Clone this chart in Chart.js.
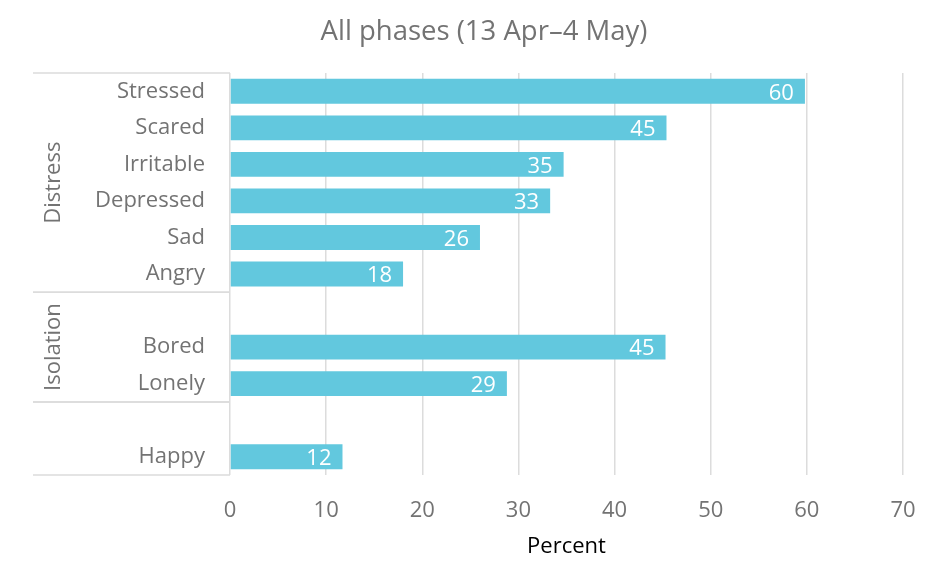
<!DOCTYPE html>
<html>
<head>
<meta charset="utf-8">
<script src="https://cdn.jsdelivr.net/npm/chart.js@4/dist/chart.umd.min.js"></script>
<style>
  html, body { margin: 0; padding: 0; background: #fff; }
  #wrap { width: 938px; height: 563px; }
</style>
</head>
<body>
<div id="wrap"><canvas id="feelingsChart"></canvas></div>
<script>
const categories = ['Stressed', 'Scared', 'Irritable', 'Depressed', 'Sad', 'Angry', '', 'Bored', 'Lonely', '', 'Happy'];
const percents = [59.8, 45.4, 34.7, 33.3, 26.0, 18.0, null, 45.3, 28.8, null, 11.7];
const groupNames = ['Distress', 'Isolation', ''];
const groupSpans = [[0, 5], [6, 8], [9, 10]];
const xTicks = [0, 10, 20, 30, 40, 50, 60, 70];

const font = 'Open Sans';
const grey = '#737373';
const lineGrey = '#dcdcdc';

// value labels inside the bar end
const barLabels = {
    id: 'barLabels',
    afterDatasetsDraw(chart) {
        const ctx = chart.ctx;
        const meta = chart.getDatasetMeta(0);
        ctx.save();
        ctx.font = '22px "' + font + '"';
        ctx.fillStyle = '#ffffff';
        ctx.textAlign = 'right';
        ctx.textBaseline = 'middle';
        meta.data.forEach((bar, i) => {
            const v = percents[i];
            if (v === null) return;
            ctx.fillText(String(Math.round(v)), bar.x - 11, bar.y + 2);
        });
        ctx.restore();
    }
};

// group names and separators in the category area
const groupAxis = {
    id: 'groupAxis',
    afterDraw(chart) {
        const ctx = chart.ctx;
        const y = chart.scales.y;
        const step = y.getPixelForValue(1) - y.getPixelForValue(0);
        const left = 33;
        const right = chart.chartArea.left;
        ctx.save();
        ctx.strokeStyle = lineGrey;
        ctx.lineWidth = 1.5;
        groupSpans.forEach((span, g) => {
            const top = y.getPixelForValue(span[0]) - step / 2;
            const bottom = y.getPixelForValue(span[1]) + step / 2;
            ctx.beginPath();
            ctx.moveTo(left, top);
            ctx.lineTo(right, top);
            ctx.moveTo(left, bottom);
            ctx.lineTo(right, bottom);
            ctx.stroke();
            if (groupNames[g]) {
                ctx.save();
                ctx.translate(54, (top + bottom) / 2);
                ctx.rotate(-Math.PI / 2);
                ctx.font = '22px "' + font + '"';
                ctx.fillStyle = grey;
                ctx.textAlign = 'center';
                ctx.textBaseline = 'middle';
                ctx.fillText(groupNames[g], 0, 0);
                ctx.restore();
            }
        });
        ctx.restore();
    }
};

new Chart(document.getElementById('feelingsChart'), {
    type: 'bar',
    data: {
        labels: categories,
        datasets: [
            {
                label: 'Percent',
                data: percents,
                backgroundColor: '#62c8de',
                borderWidth: 0,
                barPercentage: 0.68,
                categoryPercentage: 1,
            }
        ]
    },
    options: {
        indexAxis: 'y',
        responsive: true,
        maintainAspectRatio: false,
        animation: false,
        layout: { padding: { left: 30, right: 0, top: 0, bottom: 0 } },
        plugins: {
            legend: { display: false },
            tooltip: { enabled: false },
            title: {
                display: true,
                text: 'All phases (13 Apr\u20134 May)',
                color: grey,
                font: { family: font, size: 27.5, weight: 'normal' },
                padding: { top: 16, bottom: 24 }
            }
        },
        scales: {
            x: {
                min: 0,
                max: 70,
                afterBuildTicks(scale) {
                    scale.ticks = xTicks.map(v => ({ value: v }));
                },
                afterFit(scale) {
                    scale.height = 88;
                    scale.paddingRight = 35;
                },
                grid: { color: lineGrey, lineWidth: 1.5, drawTicks: false },
                border: { display: false },
                ticks: {
                    color: grey,
                    padding: 23,
                    font: { family: font, size: 22 }
                },
                title: {
                    display: true,
                    text: 'Percent',
                    color: '#000000',
                    padding: { top: 0, bottom: 3 },
                    font: { family: font, size: 22 }
                }
            },
            y: {
                afterFit(scale) {
                    scale.width = 200;
                },
                grid: { display: false, drawTicks: false },
                border: { display: false },
                ticks: {
                    color: grey,
                    padding: 25,
                    autoSkip: false,
                    font: { family: font, size: 22, lineHeight: 1.1 }
                }
            }
        }
    },
    plugins: [barLabels, groupAxis]
});
</script>
</body>
</html>
